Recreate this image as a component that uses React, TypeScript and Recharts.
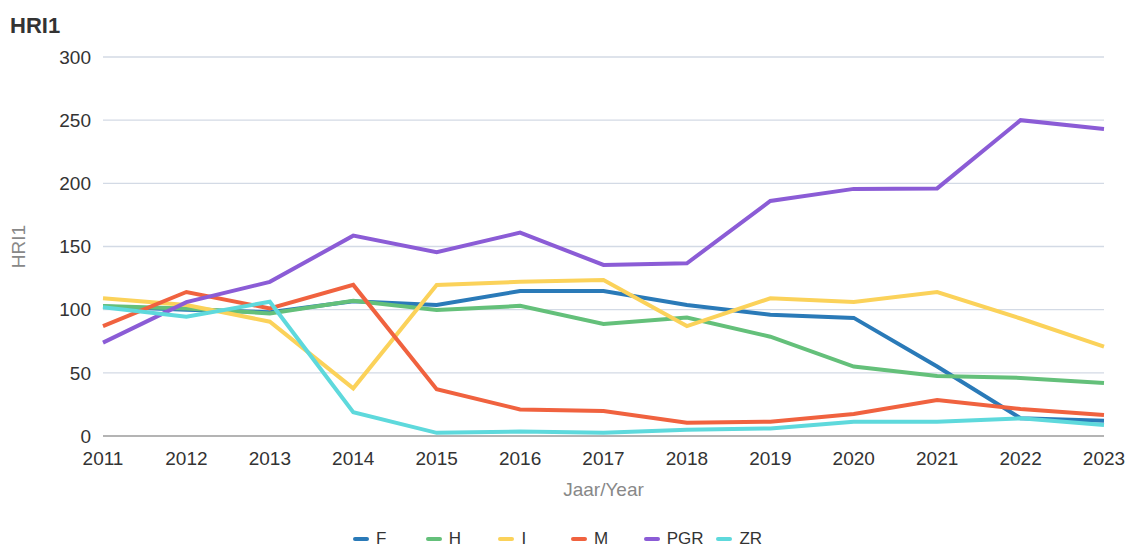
import { LineChart, Line, XAxis, YAxis, CartesianGrid, Legend } from 'recharts';

// jaren op de x-as
const years = ['2011', '2012', '2013', '2014', '2015', '2016', '2017', '2018', '2019', '2020', '2021', '2022', '2023'];

// HRI1 per groep
const F = [102.5, 100, 98, 106.6, 103.7, 114.8, 114.8, 103.7, 96, 93.5, 55, 14, 12];
const H = [103, 101, 97, 107, 99.7, 103, 88.7, 93.7, 78.6, 55, 47.5, 46, 42];
const I = [109, 103.7, 90.5, 37.7, 119.6, 122, 123.5, 87, 109, 106, 114, 93, 70.7];
const M = [87, 114, 101, 119.6, 37, 21, 19.8, 10.5, 11.3, 17.4, 28.5, 21.3, 16.6];
const PGR = [73.9, 106, 122, 158.6, 145.4, 161, 135.4, 136.7, 186, 195.6, 196, 250, 243];
const ZR = [101.9, 94.5, 106.3, 18.8, 2.5, 3.5, 2.5, 5, 6, 11.3, 11.3, 14, 8.7];

const yTicks = [0, 50, 100, 150, 200, 250, 300];

const series = [
    { key: 'F', values: F, color: '#2a7ab8' },
    { key: 'H', values: H, color: '#64c07a' },
    { key: 'I', values: I, color: '#fbd25a' },
    { key: 'M', values: M, color: '#f0623f' },
    { key: 'PGR', values: PGR, color: '#8b5cd6' },
    { key: 'ZR', values: ZR, color: '#5ed9dc' },
];

const data = years.map((year, i) => {
    const row: Record<string, string | number> = { year };
    series.forEach(s => {
        row[s.key] = s.values[i];
    });
    return row;
});

const FONT = '"Liberation Sans", Arial, sans-serif';

function LegendContent({ payload }: any) {
    return (
        <div style={{ display: 'flex', alignItems: 'center', height: 22, paddingLeft: 353, fontFamily: FONT }}>
            {(payload || []).map((entry: any) => (
                <div key={entry.value} style={{ display: 'flex', alignItems: 'center', width: 72.7 }}>
                    <span style={{ display: 'inline-block', width: 16, height: 4, borderRadius: 2, background: entry.color }} />
                    <span style={{ marginLeft: 7, fontSize: 17, color: '#333' }}>{entry.value}</span>
                </div>
            ))}
        </div>
    );
}

export default function App() {
    return (
        <div style={{ position: 'absolute', left: 0, top: 0, width: 1127, height: 548, background: '#fff', fontFamily: FONT }}>
            <div style={{ position: 'absolute', left: 10, top: 15, fontSize: 22, lineHeight: '22px', fontWeight: 'bold', color: '#333' }}>
                HRI1
            </div>
            <LineChart width={1127} height={548} data={data} margin={{ top: 57, right: 23, left: 0, bottom: 0 }}>
                <CartesianGrid horizontal vertical={false} stroke="#d3dae5" strokeWidth={1.3} />
                <XAxis
                    dataKey="year"
                    height={112}
                    tickSize={0}
                    tickMargin={16}
                    axisLine={{ stroke: '#b4b4b4', strokeWidth: 2 }}
                    tick={{ fontSize: 19, fill: '#333', fontFamily: FONT }}
                    interval={0}
                    label={{ value: 'Jaar/Year', position: 'insideTop', offset: 47, fontSize: 19, fill: '#888', fontFamily: FONT }}
                />
                <YAxis
                    width={103}
                    domain={[0, 300]}
                    ticks={yTicks}
                    tickSize={0}
                    tickMargin={12}
                    axisLine={false}
                    tick={{ fontSize: 19, fill: '#333', fontFamily: FONT }}
                    label={{ value: 'HRI1', angle: -90, position: 'insideLeft', offset: 18, fontSize: 19, fill: '#888', fontFamily: FONT, style: { textAnchor: 'middle' } }}
                />
                <Legend
                    layout="horizontal"
                    verticalAlign="middle"
                    wrapperStyle={{ left: 0, top: 528, width: 1127, height: 22 }}
                    content={<LegendContent />}
                />
                {series.map(s => (
                    <Line
                        key={s.key}
                        type="linear"
                        dataKey={s.key}
                        stroke={s.color}
                        strokeWidth={4}
                        dot={false}
                        activeDot={false}
                        isAnimationActive={false}
                    />
                ))}
            </LineChart>
        </div>
    );
}
